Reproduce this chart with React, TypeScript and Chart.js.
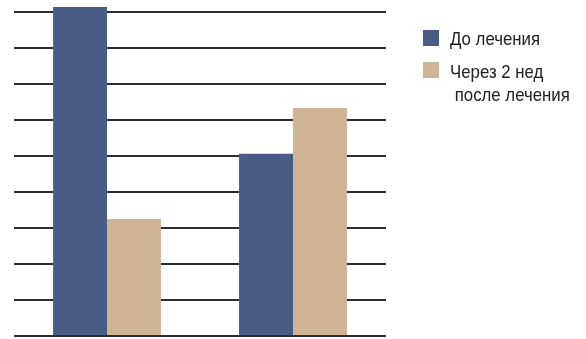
import React, { useEffect, useRef } from "react";
import { Chart, registerables } from "chart.js";

Chart.register(...registerables);

const categories = ["A", "B"];
const seriesNames = ["До лечения", "Через 2 нед"];
const seriesNames2 = ["", "после лечения"];
const beforeValues = [9.14, 5.06];
const afterValues = [3.25, 6.33];
const colors = ["#485c86", "#cfb495"];

export default function App() {
  const ref = useRef<HTMLCanvasElement | null>(null);
  useEffect(() => {
    document.body.style.margin = "0";
    const chart = new Chart(ref.current!, {
      type: "bar",
      data: {
        labels: categories,
        datasets: [
          { label: seriesNames[0], data: beforeValues, backgroundColor: colors[0], barPercentage: 1, categoryPercentage: 0.58, clip: false },
          { label: seriesNames[1], data: afterValues, backgroundColor: colors[1], barPercentage: 1, categoryPercentage: 0.58, clip: false },
        ],
      },
      options: {
        animation: false,
        responsive: false,
        maintainAspectRatio: false,
        layout: { padding: { left: 14, right: 200, top: 12, bottom: 3 } },
        plugins: { legend: { display: false }, tooltip: { enabled: false } },
        scales: {
          x: {
            display: false,
          },
          y: {
            min: 0,
            max: 9,
            display: true,
            ticks: { display: false, stepSize: 1 },
            border: { display: false },
            grid: { color: "#2e2e2e", lineWidth: 2, drawTicks: false },
          },
        },
      },
    });
    return () => chart.destroy();
  }, []);

  const font = "'Liberation Sans', Arial, sans-serif";
  const textStyle: React.CSSProperties = {
    position: "absolute",
    fontFamily: font,
    fontSize: 19,
    color: "#222",
    whiteSpace: "pre",
    lineHeight: "23.5px",
    transform: "scaleX(0.885)",
    transformOrigin: "0 0",
  };
  return (
    <div style={{ position: "relative", width: 586, height: 339 }}>
      <canvas ref={ref} width={586} height={339} style={{ display: "block" }} />
      <div style={{ position: "absolute", left: 423, top: 30, width: 16, height: 16, background: colors[0] }} />
      <div style={{ ...textStyle, left: 450, top: 27.4 }}>{seriesNames[0]}</div>
      <div style={{ position: "absolute", left: 423, top: 62, width: 16, height: 16, background: colors[1] }} />
      <div style={{ ...textStyle, left: 450, top: 59.7 }}>{seriesNames[1] + "\n " + seriesNames2[1]}</div>
    </div>
  );
}
